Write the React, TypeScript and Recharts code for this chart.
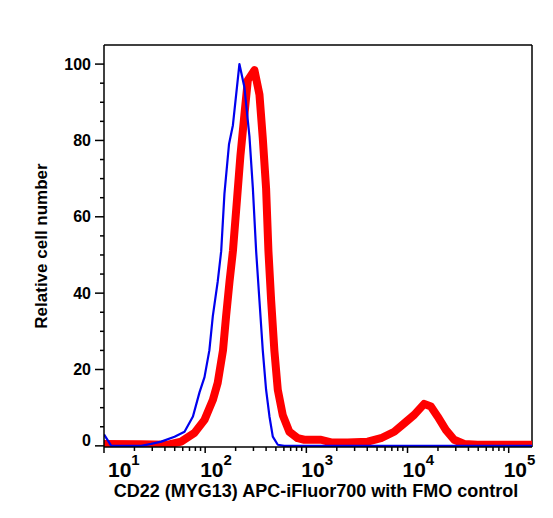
import { LineChart, Line, XAxis, YAxis, ReferenceLine } from "recharts";

// FMO control (blue)
const blueX = [10, 11.8, 23.3, 29.3, 36.8, 49.8, 62.5, 75.7, 87.9, 98.5, 110, 119, 133, 144, 155, 172, 188, 218, 244, 274, 296, 319, 344, 371, 400, 432, 466, 522, 603, 170000];
const blueY = [3, 0, 0, 0.5, 1.1, 2.4, 3.7, 7.7, 14, 18, 25, 34, 43, 51, 66, 79, 84, 100, 94, 81, 67.5, 51, 38, 25, 14.7, 7.7, 2.4, 0.3, 0, 0];

// CD22 stained (red)
const redX = [10, 23.3, 42.9, 57.9, 78.4, 98.5, 119, 133, 150, 161, 174, 188, 207, 223, 244, 264, 307, 344, 371, 400, 422, 449, 483, 522, 585, 679, 822, 955, 1396, 1754, 2564, 4039, 5462, 7390, 9270, 11640, 14620, 17020, 19820, 23930, 28900, 36300, 49200, 170000];
const redY = [0.5, 0.4, 0.3, 1.1, 3.4, 6.8, 12, 16.5, 25, 34, 43, 51, 65, 76, 86.6, 95.8, 98.4, 92, 80.6, 67.5, 51, 38, 25, 14.7, 8, 3.7, 2, 1.6, 1.6, 0.9, 0.9, 1.1, 2, 3.7, 5.9, 8.1, 11, 10.3, 7.7, 4.2, 1.6, 0.5, 0.3, 0.3];

const xTicks = [10, 20, 30, 40, 50, 60, 70, 80, 90, 100, 200, 300, 400, 500, 600, 700, 800, 900, 1000, 2000, 3000, 4000, 5000, 6000, 7000, 8000, 9000, 10000, 20000, 30000, 40000, 50000, 60000, 70000, 80000, 90000, 100000];
const yTicks = [0, 5, 10, 15, 20, 25, 30, 35, 40, 45, 50, 55, 60, 65, 70, 75, 80, 85, 90, 95, 100];

const blueData = blueX.map((x, i) => ({ x, y: blueY[i] }));
const redData = redX.map((x, i) => ({ x, y: redY[i] }));

const font = "'Liberation Sans', Arial, sans-serif";

const XTick = (props: any) => {
  const { x, y, payload } = props;
  const lg = Math.log10(payload.value);
  const e = Math.round(lg);
  const major = Math.abs(lg - e) < 1e-6;
  return (
    <g>
      <line x1={x} x2={x} y1={y} y2={y + (major ? 6 : 4)} stroke="#000" strokeWidth={1.5} />
      {major && (
        <text x={Math.max(x - 5, 100)} y={y + 30} fontSize={21} fontWeight="bold" fontFamily={font} fill="#000">
          10<tspan dy={-12} fontSize={15}>{e}</tspan>
        </text>
      )}
    </g>
  );
};

const YTick = (props: any) => {
  const { x, y, payload } = props;
  const v = payload.value;
  const major = v % 20 === 0;
  return (
    <g>
      <line x1={x - (major ? 9 : 4)} x2={x} y1={y} y2={y} stroke="#000" strokeWidth={1.5} />
      {major && (
        <text x={x - 13} y={v === 0 ? y - 5 : y} dy="0.35em" textAnchor="end" fontSize={16} fontWeight="bold" fontFamily={font} fill="#000">
          {v}
        </text>
      )}
    </g>
  );
};

const XLabel = (props: any) => {
  const vb = props.viewBox;
  return (
    <text x={vb.x + vb.width / 2 - 2} y={vb.y + 50} textAnchor="middle" fontSize={18} fontWeight="bold" fontFamily={font} fill="#000">
      CD22 (MYG13) APC-iFluor700 with FMO control
    </text>
  );
};

const YLabel = (props: any) => {
  const vb = props.viewBox;
  const cx = vb.x + 39;
  const cy = vb.y + vb.height / 2;
  return (
    <text x={cx} y={cy} transform={`rotate(-90, ${cx}, ${cy})`} textAnchor="middle" fontSize={17} fontWeight="bold" fontFamily={font} fill="#000">
      Relative cell number
    </text>
  );
};

export default function App() {
  return (
    <LineChart width={545} height={510} margin={{ top: 37, right: 21, left: 0, bottom: 0 }}>
      <XAxis
        dataKey="x"
        type="number"
        scale="log"
        domain={[10, 170000]}
        allowDataOverflow
        ticks={xTicks}
        interval={0}
        tick={<XTick />}
        tickLine={false}
        tickSize={0}
        tickMargin={0}
        height={71}
        axisLine={{ stroke: "#000", strokeWidth: 1.5 }}
        label={{ content: <XLabel /> }}
      />
      <YAxis
        type="number"
        domain={[-0.3, 105]}
        allowDataOverflow
        ticks={yTicks}
        interval={0}
        tick={<YTick />}
        tickLine={false}
        tickSize={0}
        tickMargin={0}
        width={96}
        axisLine={{ stroke: "#000", strokeWidth: 1.5 }}
        label={{ content: <YLabel /> }}
      />
      <ReferenceLine y={105} stroke="#000" strokeWidth={1.5} ifOverflow="visible" />
      <ReferenceLine x={170000} stroke="#000" strokeWidth={1.5} ifOverflow="visible" />
      <Line data={redData} dataKey="y" type="linear" stroke="#ff0000" strokeWidth={8} strokeLinejoin="round" dot={false} isAnimationActive={false} />
      <Line data={blueData} dataKey="y" type="linear" stroke="#0000ee" strokeWidth={2.2} strokeLinejoin="round" dot={false} isAnimationActive={false} />
    </LineChart>
  );
}
